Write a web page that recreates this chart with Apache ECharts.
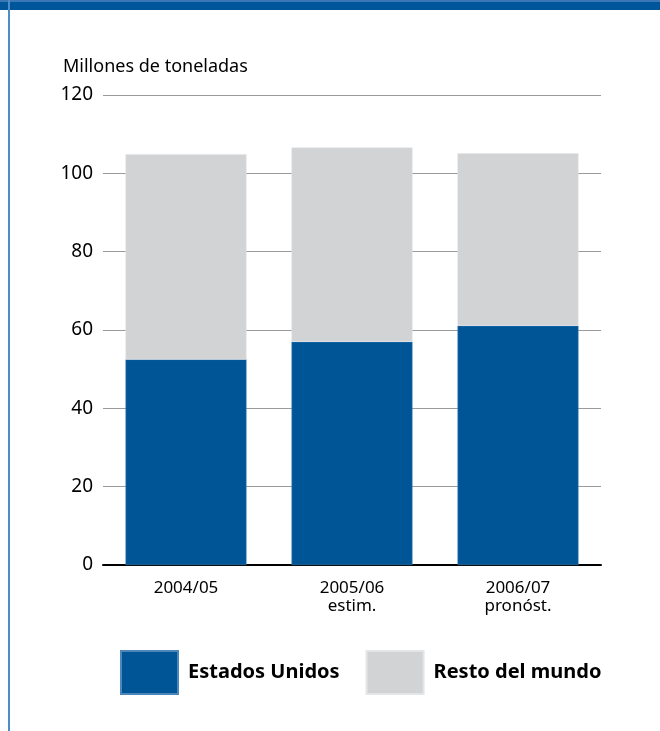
<!DOCTYPE html>
<html>
<head>
<meta charset="utf-8">
<script src="https://cdn.jsdelivr.net/npm/echarts@6/dist/echarts.min.js"></script>
<style>
  html, body { margin: 0; padding: 0; background: #fff; }
  #chart { width: 660px; height: 731px; }
</style>
</head>
<body>
<div id="chart"></div>
<script>
// Campaigns and tonnage (millions of tonnes)
const categories = ['2004/05', '2005/06\nestim.', '2006/07\npronóst.'];
const estadosUnidos = [52.5, 57.0, 61.1];
const restoDelMundo = [52.4, 49.6, 44.0];
const yTicks = [0, 20, 40, 60, 80, 100, 120];

const FONT = '"Noto Sans", "Open Sans", sans-serif';
const BLUE = '#005596';
const GREY = '#d1d3d4';

const chart = echarts.init(document.getElementById('chart'), null, { renderer: 'canvas' });

chart.setOption({
  animation: false,
  backgroundColor: '#fff',
  textStyle: { fontFamily: FONT },
  grid: { left: 103, right: 59, top: 95, bottom: 166 },
  legend: {
    left: 120,
    top: 650,
    padding: 0,
    itemWidth: 57,
    itemHeight: 43,
    itemGap: 26,
    icon: 'rect',
    textStyle: { fontFamily: FONT, fontSize: 20, fontWeight: 'bold', color: '#000', padding: [0, 0, 0, 5] },
    data: ['Estados Unidos', 'Resto del mundo']
  },
  graphic: [
    { type: 'rect', left: 0, top: 0, shape: { width: 660, height: 10 }, style: { fill: '#00569b' } },
    { type: 'rect', left: 0, top: 0, shape: { width: 660, height: 2 }, style: { fill: '#3d78b6' } },
    { type: 'rect', left: 8, top: 0, shape: { width: 2, height: 731 }, style: { fill: '#4f8bc4' } },
    {
      type: 'text', x: 63, y: 66.5,
      style: { text: 'Millones de toneladas', font: '18px ' + FONT, fill: '#000', verticalAlign: 'middle' }
    }
  ],
  xAxis: {
    type: 'category',
    data: categories,
    axisLine: { lineStyle: { color: '#000', width: 2 } },
    axisTick: { show: false },
    axisLabel: { fontFamily: FONT, fontSize: 17, color: '#000', margin: 14, lineHeight: 18 }
  },
  yAxis: {
    type: 'value',
    min: yTicks[0],
    max: yTicks[yTicks.length - 1],
    interval: yTicks[1] - yTicks[0],
    axisLine: { show: false },
    axisTick: { show: false },
    axisLabel: { fontFamily: FONT, fontSize: 19, color: '#000', margin: 10 },
    splitLine: { lineStyle: { color: '#9a9a9a', width: 1 } }
  },
  series: [
    {
      name: 'Estados Unidos',
      type: 'bar',
      stack: 'total',
      barWidth: 121,
      data: estadosUnidos,
      itemStyle: { color: BLUE, borderColor: '#4d86bb', borderWidth: 0.5 }
    },
    {
      name: 'Resto del mundo',
      type: 'bar',
      stack: 'total',
      barWidth: 121,
      data: restoDelMundo,
      itemStyle: { color: GREY, borderColor: '#e4e5e6', borderWidth: 0.5 }
    }
  ]
});
</script>
</body>
</html>
